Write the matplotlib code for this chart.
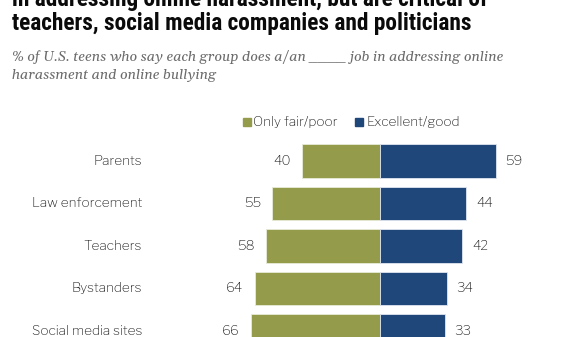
import matplotlib.pyplot as plt

groups = ["Parents", "Law enforcement", "Teachers", "Bystanders", "Social media sites"]
fair_poor = [40, 55, 58, 64, 66]
excellent_good = [59, 44, 42, 34, 33]

OLIVE = "#949c4b"
NAVY = "#20477a"

W, H = 585, 337
fig = plt.figure(figsize=(W / 100, H / 100), dpi=100)
ax = fig.add_axes([0, 0, 1, 1])

# x: one unit = ~1.96 px, zero line at px 380; rows 42.5 px apart, first at px 160
px = 1.96
ax.set_xlim(-380 / px, (W - 380) / px)
ax.set_ylim((H - 161) / 42.5, -161 / 42.5)
ax.axis("off")

rows = range(len(groups))
ax.barh(rows, [-v for v in fair_poor], height=0.78, color=OLIVE, edgecolor="#e8ecd8", linewidth=0.6)
ax.barh(rows, excellent_good, height=0.78, color=NAVY, edgecolor="#dfe6ef", linewidth=0.6)

LABEL_FONT = ["Libre Franklin", "DejaVu Sans"]
lab = dict(fontsize=9.8, fontweight="medium", color="#1a1a1a", va="center", family=LABEL_FONT)
for i, (a, b) in enumerate(zip(fair_poor, excellent_good)):
    ax.text(-a - 11 / px, i, str(a), ha="right", **lab)
    ax.text(b + 10 / px, i, str(b), ha="left", **lab)
    ax.text((142 - 380) / px, i, groups[i], ha="right", **lab)


def fx(x):
    return x / W


def fy(y):
    return 1 - y / H


# legend
leg = {k: v for k, v in lab.items() if k != "va"}
fig.patches.append(plt.Rectangle((fx(243), fy(126)), 8 / W, 8 / H, color=OLIVE, transform=fig.transFigure))
fig.patches.append(plt.Rectangle((fx(355), fy(126)), 8 / W, 8 / H, color=NAVY, transform=fig.transFigure))
fig.text(fx(253), fy(122), "Only fair/poor", ha="left", va="center", **leg)
fig.text(fx(366), fy(122), "Excellent/good", ha="left", va="center", **leg)

title_kw = dict(fontsize=16.8, fontweight="bold", color="#0a0a0a", ha="left", va="baseline",
                family=["Roboto Condensed", "DejaVu Sans"])
fig.text(fx(12), fy(6), "in addressing online harassment, but are critical of", **title_kw)
fig.text(fx(12), fy(30), "teachers, social media companies and politicians", **title_kw)

sub_kw = dict(fontsize=10.3, style="italic", color="#6b6b6b", ha="left", va="baseline",
              family=["Gelasio", "DejaVu Serif"])
fig.text(fx(12), fy(61), "% of U.S. teens who say each group does a/an ____ job in addressing online", **sub_kw)
fig.text(fx(12), fy(79), "harassment and online bullying", **sub_kw)

fig.savefig("out.png", dpi=100)
